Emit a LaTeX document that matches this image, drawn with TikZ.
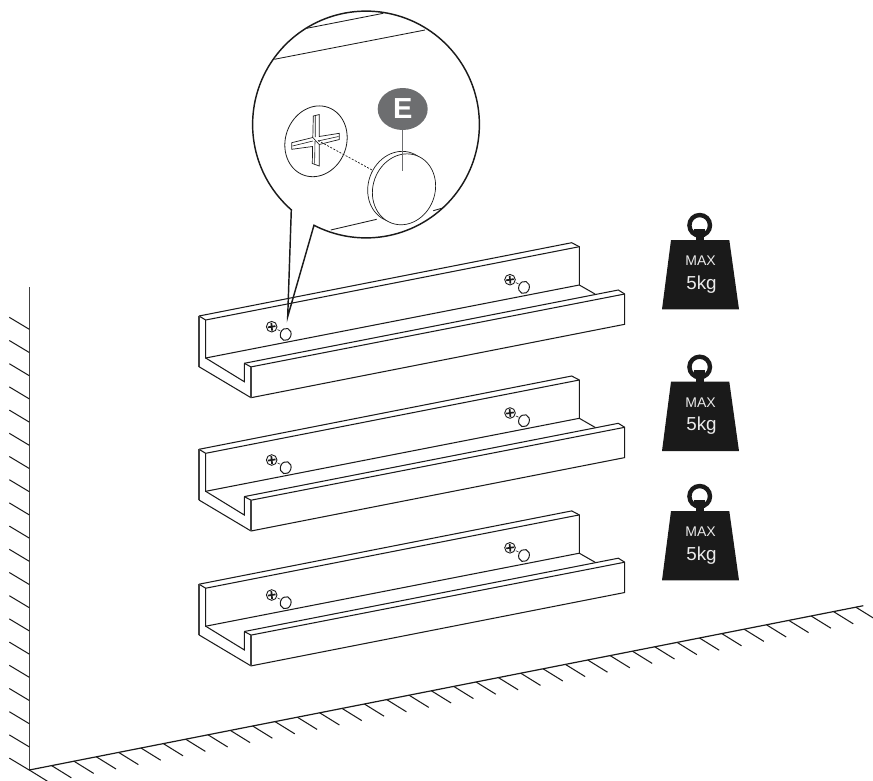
\documentclass[tikz,border=0pt]{standalone}
\usepackage{fontspec}
\setmainfont{Liberation Sans}
\usetikzlibrary{shapes.geometric}
\definecolor{inkc}{HTML}{1A1A1A}
\definecolor{wallc}{HTML}{404040}
\definecolor{tagc}{HTML}{6D6E70}
\tikzset{
  shelfline/.style={draw=inkc,line width=1.05pt,line join=miter},
  hatchline/.style={draw=inkc,line width=1.05pt},
  calloutline/.style={draw=inkc,line width=1.45pt,line join=miter},
  thinline/.style={draw=inkc,line width=0.85pt},
  pinshape/.style={draw=inkc,line width=0.7pt,ellipse,fill=white,inner sep=0pt},
  weighttext/.style={text=white!92!black,inner sep=0pt,anchor=center},
}
\newcommand{\screwpin}[2]{%
  \begin{scope}[shift={(#1,#2)}]
    \draw[line width=0.9pt,draw=inkc] (0,0) circle[radius=5.3];
    \draw[line width=1.7pt,draw=inkc] (-3.8,0.6) -- (3.8,-0.6) (-0.4,-3.9) -- (0.4,3.9);
    \draw[line width=0.6pt,draw=inkc] (5.8,2.9) -- (8.6,4.2);
    \node[draw=inkc,line width=1pt,ellipse,inner sep=0pt,minimum width=12.4pt,minimum height=10.6pt,rotate=70] at (14,7.7) {};
  \end{scope}}
\newcommand{\shelfunit}[1]{%
  \begin{scope}[shift={(0,#1)}]
    % back wall
    \draw[shelfline] (199,316) -- (571.7,242.7) -- (579.3,246.7) -- (579.3,285) -- (595,294);
    \draw[shelfline] (199,316) -- (205.7,320) -- (579.3,246.7);
    \draw[shelfline] (205.7,320) -- (205.7,358) -- (579.3,285);
    \draw[line width=1.4pt,draw=wallc] (199,316) -- (199,366.7);
    % end and floor
    \draw[shelfline] (199,366.7) -- (251,397.7);
    \draw[shelfline] (205.7,358) -- (244.3,381.7) -- (244.3,363.3);
    % front lip
    \draw[shelfline] (244.3,363.3) -- (618.3,290) -- (624.7,294) -- (624.7,324.3) -- (251,397.7);
    \draw[shelfline] (244.3,363.3) -- (251,366.9) -- (624.7,294);
    \draw[line width=1.4pt,draw=wallc] (251,366.9) -- (251,397.7);
  \end{scope}}
\newcommand{\weightunit}[2]{%
  \begin{scope}[shift={(0,#1)}]
    \fill[inkc] (671,240) -- (729.3,240) -- (739,309.3) -- (662,309.3) -- cycle;
    \draw[inkc,line width=4.4pt] (699.7,225.3) circle[radius=10.3];
    \fill[inkc] (695.7,232) rectangle (704,241);
    \fill[inkc] (694.3,228.6) rectangle (705,233);
    \node[weighttext,font=\fontsize{14}{15}\selectfont] (max#2) at (700.5,261) {MAX};
    \node[weighttext,font=\fontsize{18.8}{20}\selectfont] (kg#2) at (701.5,284.3) {5kg};
  \end{scope}}
\begin{document}
\begin{tikzpicture}[x=1pt,y=-1pt]
\useasboundingbox (0,0) rectangle (873,780);
\clip (0,0) rectangle (873,780);
% wall and floor
\coordinate (walltop) at (29.3,287);
\coordinate (corner) at (29.3,770);
\coordinate (floorend) at (863.3,605.7);
\draw[line width=1.6pt,draw=wallc] (walltop) -- (corner);
\draw[line width=1.2pt,draw=inkc] (corner) -- (floorend);
\foreach \i in {0,...,19} {
  \draw[hatchline] (9.3,317.3+\i*23.2) -- (29.3,329.3+\i*23.2);
}
\foreach \i in {0,...,37} {
  \draw[hatchline] (29.3+\i*22.34,770-\i*4.4) -- (49+\i*22.34,782.2-\i*4.4);
}
% shelves
\shelfunit{0}
\shelfunit{133.3}
\shelfunit{268.2}
\screwpin{271.7}{326.7}
\screwpin{510}{279.7}
\screwpin{271.7}{460}
\screwpin{510}{413}
\screwpin{271.7}{595}
\screwpin{510}{547.8}
% weights
\weightunit{0}{a}
\weightunit{141.7}{b}
\weightunit{271}{c}
% callout: lens outline and tail
\draw[calloutline] plot[domain=117.3:-228.8,samples=160] ({366+113.4*cos(\x)},{124.5+113.4*sin(\x)})
  -- (287.7,316.7) -- cycle;
% shelf edges seen in the lens
\draw[thinline] (306.7,28.3) -- (383.3,13.3);
\draw[thinline] (274.3,59.3) -- (425,30);
\draw[thinline] (330.7,230) -- (376.7,219.3);
\draw[thinline] (433.3,210.7) -- (441.7,208.3);
% screw head enlarged
\node[draw=inkc,line width=0.8pt,ellipse,inner sep=0pt,minimum width=72pt,minimum height=61pt,rotate=70] (head) at (316,141.3) {};
\draw[line width=0.7pt,draw=inkc,line join=miter,fill=white]
  (313.3,116) -- (319.3,114.5) -- (319.2,136.5) -- (339.3,133.3) -- (339.3,139.5) -- (319.2,144.5)
  -- (319.3,166) -- (312.3,163.5) -- (312.6,146.5) -- (291.7,149.3) -- (291.7,142.7) -- (312.8,137.5) -- cycle;
\draw[line width=0.6pt,draw=inkc] (315.3,115.5) -- (315.2,137) (292.5,146) -- (313,141) (318,141) -- (338.5,136.5)
  (315,141) -- (314.6,163.5) (312.8,137.5) -- (319.2,144.5);
% dashed link
\coordinate (crossmid) at (318,140.5);
\coordinate (pinrim) at (373,170.5);
\draw[line width=0.7pt,draw=inkc,dash pattern=on 2pt off 1.5pt] (crossmid) -- (pinrim);
% pin
\node[pinshape,minimum width=72pt,minimum height=62pt,rotate=70] (pinback) at (399.3,186.8) {};
\node[pinshape,minimum width=72pt,minimum height=62pt,rotate=70] (pinfront) at (404,189.3) {};
% tag
\node[ellipse,fill=tagc,inner sep=0pt,minimum width=50pt,minimum height=42pt,text=white,font=\fontsize{29}{30}\bfseries\selectfont] (tag) at (402.7,109) {E};
\coordinate (tagend) at (402.7,170.7);
\draw[draw=tagc,line width=1.4pt] (tag) -- (tagend);
\end{tikzpicture}
\end{document}
